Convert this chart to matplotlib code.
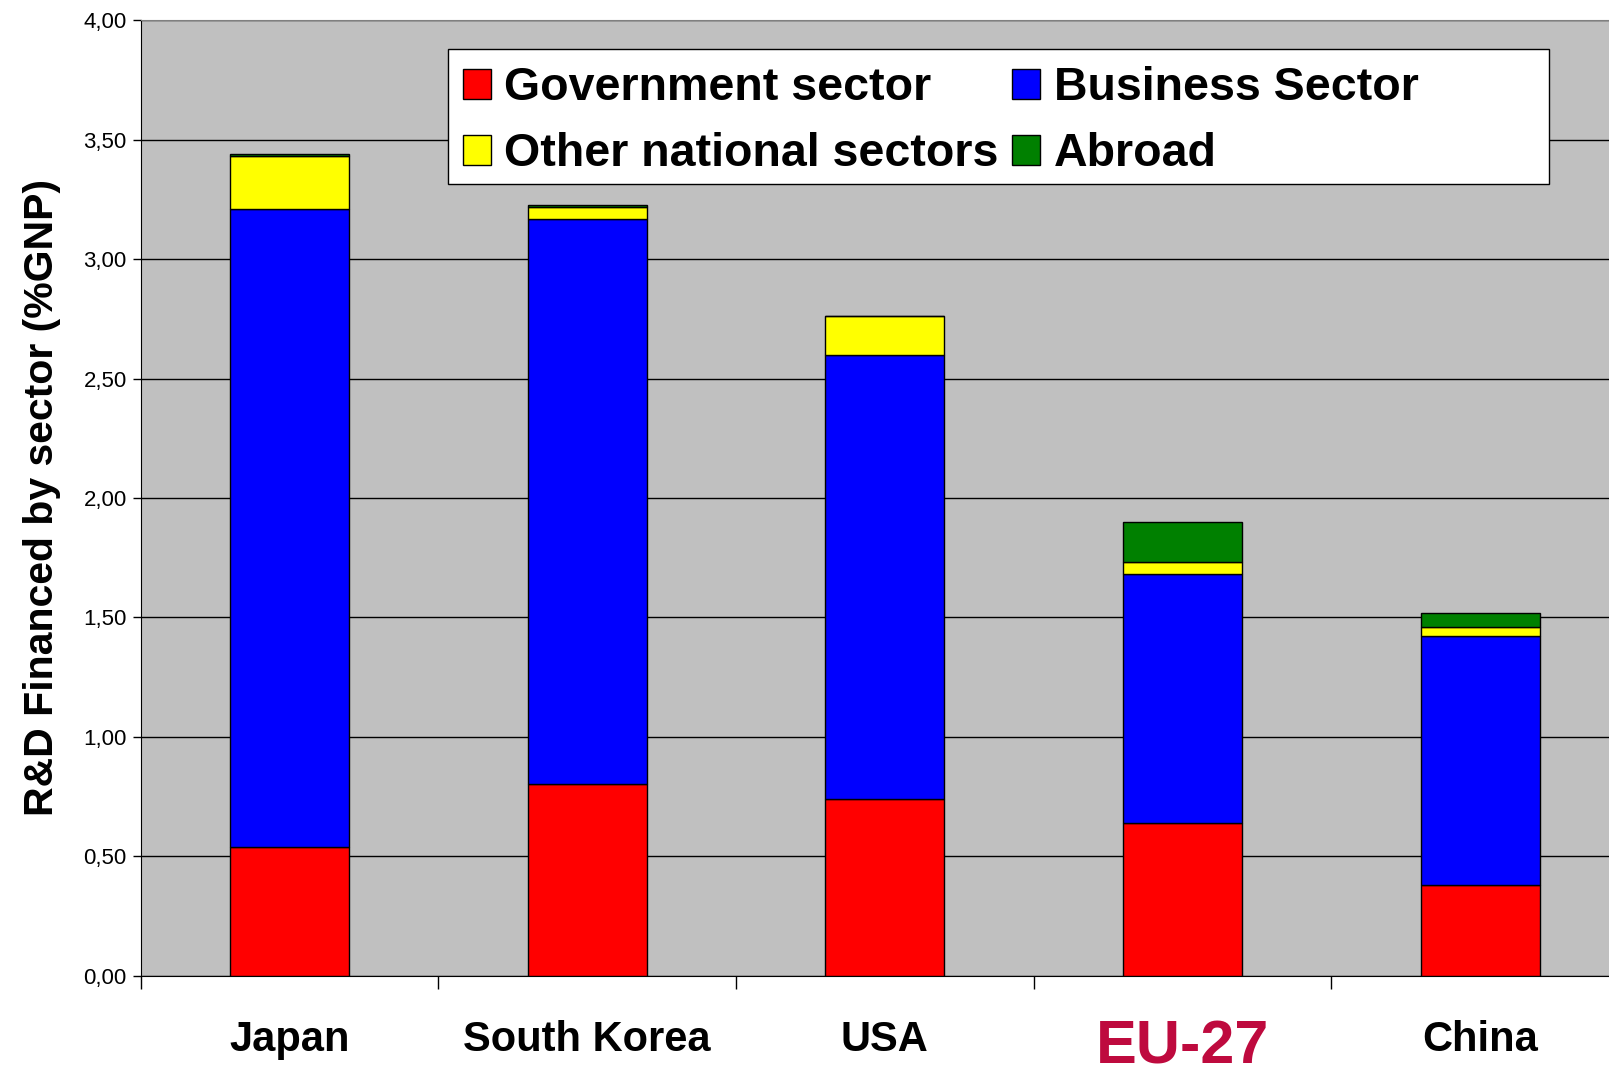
import numpy as np
import matplotlib.pyplot as plt
from matplotlib.patches import Rectangle

plt.rcParams['font.family'] = ['Liberation Sans', 'DejaVu Sans']

# data (% of GNP)
countries = ['Japan', 'South Korea', 'USA', 'EU-27', 'China']
government = [0.54, 0.80, 0.74, 0.64, 0.38]
business = [2.67, 2.37, 1.86, 1.04, 1.04]
other_national = [0.22, 0.05, 0.16, 0.05, 0.04]
abroad = [0.01, 0.005, 0.0, 0.17, 0.06]
series_names = ['Government sector', 'Business Sector', 'Other national sectors', 'Abroad']
yticks = [0, 0.5, 1.0, 1.5, 2.0, 2.5, 3.0, 3.5, 4.0]

fig = plt.figure(figsize=(16.09, 10.72), dpi=100)
ax = fig.add_axes([0.0874, 0.090, 0.925, 0.891])
ax.set_facecolor('#C0C0C0')

x = np.arange(len(countries))
w = 0.4
b1 = ax.bar(x, government, w, color='#FF0000', edgecolor='black', lw=1, zorder=3)
bottom = np.array(government)
b2 = ax.bar(x, business, w, bottom=bottom, color='#0000FF', edgecolor='black', lw=1, zorder=3)
bottom = bottom + np.array(business)
b3 = ax.bar(x, other_national, w, bottom=bottom, color='#FFFF00', edgecolor='black', lw=1, zorder=3)
bottom = bottom + np.array(other_national)
b4 = ax.bar(x, abroad, w, bottom=bottom, color='#008000', edgecolor='black', lw=1, zorder=3)

ax.set_xlim(-0.5, 4.5)
ax.set_ylim(0, 4)
ax.set_yticks(yticks)
ax.set_yticklabels([('%.2f' % v).replace('.', ',') for v in yticks], fontsize=16)
ax.yaxis.grid(True, color='black', lw=1, zorder=1)
ax.set_axisbelow(True)
ax.tick_params(axis='y', direction='out', length=6, width=1, pad=4)

ax.set_xticks(x)
ax.set_xticklabels(countries, fontsize=30, fontweight='bold')
ax.set_xticks(np.arange(-0.5, 5, 1), minor=True)
ax.tick_params(axis='x', which='major', length=0, pad=32)
ax.tick_params(axis='x', which='minor', length=9, width=1, direction='out')
for lab in ax.get_xticklabels():
    if lab.get_text() == 'EU-27':
        lab.set_color('#BE0A3E')
        lab.set_fontsize(44)

ax.set_ylabel('R&D Financed by sector (%GNP)', fontsize=29.5, fontweight='bold', labelpad=16)

ax.spines['right'].set_visible(False)
ax.spines['top'].set_color('#808080')

# legend box (Excel style, wider than its entries)
fig.patches.append(Rectangle((0.2787, 0.8287), 0.6843, 0.1253, transform=fig.transFigure,
                             facecolor='white', edgecolor='black', lw=1, zorder=4))
# handles ordered so rows read: Government/Business, Other/Abroad
leg = fig.legend([b1, b3, b2, b4],
                 [series_names[0], series_names[2], series_names[1], series_names[3]],
                 ncol=2, loc='upper left', bbox_to_anchor=(0.2875, 0.938),
                 prop={'weight': 'bold', 'size': 33.5}, frameon=False,
                 handlelength=0.6, handleheight=0.6, handletextpad=0.3,
                 columnspacing=0.28, borderpad=0, labelspacing=0.47, borderaxespad=0)

fig.savefig('out.png', dpi=100)
